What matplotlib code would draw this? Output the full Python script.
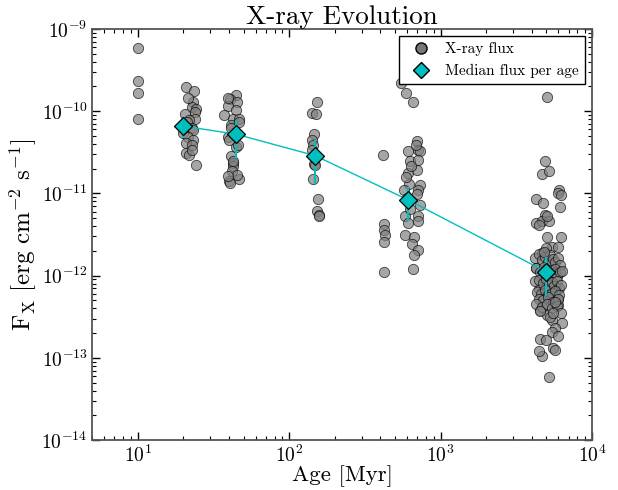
import numpy as np
import matplotlib
matplotlib.use("Agg")
import matplotlib.pyplot as plt
from matplotlib.lines import Line2D

plt.rcParams['font.family'] = 'serif'
plt.rcParams['font.serif'] = ['cmr10', 'DejaVu Serif']
plt.rcParams['mathtext.fontset'] = 'cm'
plt.rcParams['axes.formatter.use_mathtext'] = True

# ---- data: individual sources (age in Myr, log10 flux) ----
age_10 = [10, 10, 10, 10]
logf_10 = [-9.225, -9.627, -9.778, -10.090]

age_20 = [20.9, 23.6, 23.0, 22.6, 24.3, 20.6, 24.0, 24.0, 21.9, 21.0, 22.6, 23.2,
          20.0, 21.3, 23.2, 20.8, 22.8, 20.9, 21.6, 24.3, 21.3, 22.8]
logf_20 = [-9.71, -9.76, -9.89, -9.95, -9.97, -10.03, -10.01, -10.09, -10.11, -10.13, -10.21, -10.23,
           -10.27, -10.31, -10.35, -10.39, -10.41, -10.51, -10.53, -10.65, -9.84, -10.47]

age_45 = [44.4, 40.3, 44.9, 39.3, 44.4, 37.2, 42.3, 46.4, 41.3, 39.3, 44.4, 41.3, 42.8, 42.3,
          41.8, 46.4, 39.8, 40.3, 39.6, 46.4, 45.9, 41.3, 39.8, 44.9, 42.8, 39.3]
logf_45 = [-9.80, -9.85, -9.89, -9.94, -9.99, -10.05, -10.09, -10.09, -10.17, -10.31, -10.43, -10.55,
           -10.63, -10.67, -10.73, -10.82, -10.85, -10.87, -9.84, -10.13, -10.41, -10.21, -10.35,
           -10.77, -10.61, -10.79]

age_150 = [152, 142, 150, 146, 141, 144, 141, 146, 147, 144, 154, 152, 158, 158, 145]
logf_150 = [-9.89, -10.02, -10.03, -10.28, -10.35, -10.41, -10.47, -10.64, -10.65, -10.83,
            -11.07, -11.22, -11.26, -11.28, -10.55]

age_600 = [545, 590, 655, 415, 420, 425, 430, 425, 420,
           695, 610, 705, 725, 630, 705, 610, 700, 620, 725, 570, 595, 705,
           580, 705, 705, 610, 585, 670, 650, 705, 670, 660, 685, 635, 590, 725, 625, 695]
logf_600 = [-9.66, -9.78, -9.89, -10.53, -11.37, -11.44, -11.51, -11.59, -11.95,
            -10.36, -10.49, -10.47, -10.48, -10.61, -10.59, -10.75, -10.71, -10.88, -10.90, -10.96,
            -11.06, -10.96, -11.28, -11.28, -11.34, -11.36, -11.50, -11.53, -11.61, -11.69, -11.75,
            -11.92, -10.41, -10.67, -10.80, -11.14, -11.19, -11.01]

age_5000 = [5020, 4860, 4640, 5180, 6050, 5940, 6260, 4270, 4730, 6160, 4910, 4270, 4700, 5180,
            5020, 4450, 5020, 5450, 6260, 5940, 4970, 4700, 4270, 4640, 5940, 5720, 4450, 5940,
            4540, 5020, 5400, 6370, 5720, 5400, 5940, 4540, 4970, 5510, 5670, 4640, 5180, 4450,
            # dense core
            4210, 4430, 4640, 4860, 5080, 5290, 5510, 5720, 5940, 6160,
            4270, 4540, 4810, 5020, 5240, 5450, 5670, 5890, 6100, 6320,
            4210, 4480, 4750, 4970, 5180, 5400, 5620, 5830, 6050, 6260,
            4320, 4590, 4860, 5130, 5400, 5720, 6050, 4430, 4750, 5080,
            5510, 5940, 4270, 4640, 5020, 5400, 5830, 6210, 4540, 5290,
            5720, 4810, 5560]
logf_5000 = [-9.83, -10.61, -10.76, -10.73, -10.96, -10.99, -11.02, -11.07, -11.12, -11.16,
             -11.26, -11.36, -11.34, -11.34, -11.28, -11.38, -11.53, -11.65, -11.53, -11.65,
             -11.67, -11.73, -11.91, -12.03, -12.28, -12.14, -12.16, -12.36, -12.42, -12.48,
             -12.54, -12.58, -12.64, -12.68, -12.74, -12.77, -12.78, -12.88, -12.90, -12.98,
             -13.23, -12.92,
             # dense core
             -11.79, -11.74, -11.81, -11.77, -11.84, -11.75, -11.80, -11.83, -11.78, -11.87,
             -11.91, -11.95, -11.89, -11.99, -11.93, -11.97, -11.92, -12.01, -11.96, -11.94,
             -12.07, -12.05, -12.09, -12.04, -12.12, -12.08, -12.13, -12.06, -12.15, -12.11,
             -12.20, -12.22, -12.18, -12.24, -12.21, -12.19, -12.23, -12.28, -12.30, -12.26,
             -12.32, -12.29, -12.34, -12.38, -12.35, -12.40, -12.37, -12.45, -12.43, -12.50,
             -12.32, -11.71, -12.46]

# ---- median per age group ----
median_age = [19.8, 44.5, 148, 611, 4930]
median_logf = [-10.18, -10.28, -10.54, -11.08, -11.95]
median_relerr = [0.29, 0.48, 0.55, 0.44, 0.50]

ages = np.array(age_10 + age_20 + age_45 + age_150 + age_600 + age_5000, float)
flux = 10.0 ** np.array(logf_10 + logf_20 + logf_45 + logf_150 + logf_600 + logf_5000)

med_f = 10.0 ** np.array(median_logf)
med_err = med_f * np.array(median_relerr)

fig = plt.figure(figsize=(6.18, 4.90), dpi=100)
ax = fig.add_axes([0.1494, 0.102, 0.8086, 0.8388])

ax.scatter(ages, flux, s=55, c='gray', edgecolors='k', linewidths=0.6, alpha=0.7, zorder=2)
ax.errorbar(median_age, med_f, yerr=med_err, fmt='none', ecolor='c', elinewidth=1.5, capsize=0, zorder=3)
ax.plot(median_age, med_f, '-', color='c', lw=1.0, zorder=3)
ax.plot(median_age, med_f, 'D', color='c', mec='k', mew=0.9, ms=9, ls='none', zorder=4)

ax.set_xscale('log')
ax.set_yscale('log')
ax.set_xlim(5, 1e4)
ax.set_ylim(1e-14, 1e-9)

ax.tick_params(which='both', direction='in', top=True, right=True, labelsize=14)
ax.tick_params(which='major', length=6, width=1)
ax.tick_params(which='minor', length=3, width=0.8)
for sp in ax.spines.values():
    sp.set_color('#555555')
    sp.set_linewidth(1.3)

ax.set_title('X-ray Evolution', fontsize=19.5, pad=1)
ax.set_xlabel('Age [Myr]', fontsize=16.5, labelpad=-1)
ax.set_ylabel(r'$\mathrm{F_X\ [erg\ cm^{-2}\ s^{-1}]}$', fontsize=18, labelpad=2)

handles = [Line2D([], [], marker='o', ls='none', mfc='#777777', mec='k', ms=8, alpha=1.0),
           Line2D([], [], marker='D', ls='none', mfc='c', mec='k', ms=8)]
leg = ax.legend(handles, ['X-ray flux', 'Median flux per age'], loc='upper right',
                fontsize=11, fancybox=False, framealpha=1, edgecolor='k',
                borderaxespad=0.45, handletextpad=0.6, borderpad=0.4)
leg.get_frame().set_linewidth(1.0)

fig.savefig('out.png', dpi=100)
